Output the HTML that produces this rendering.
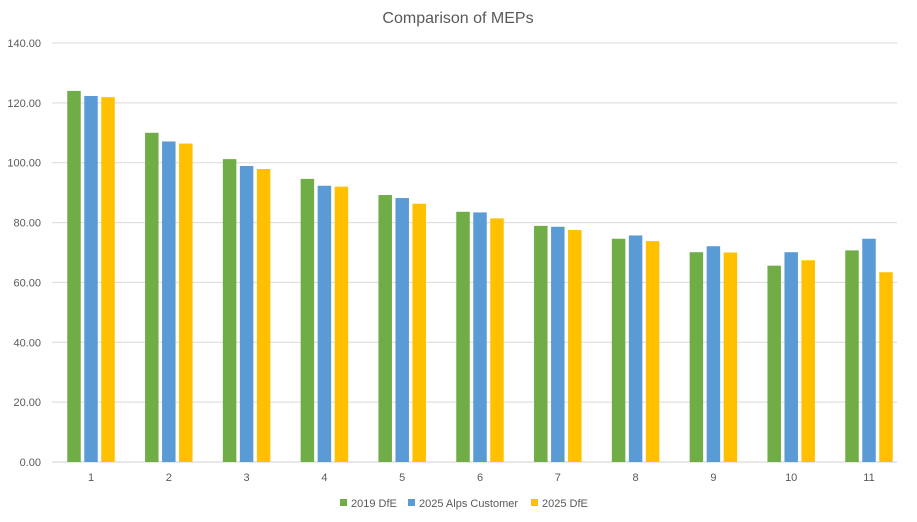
<!DOCTYPE html>
<html><head><meta charset="utf-8"><style>
body{margin:0;background:#fff;font-family:"Liberation Sans",sans-serif}
svg text{font-family:"Liberation Sans",sans-serif}
</style></head><body>
<svg id="chart" width="917" height="517">
<text x="458" y="23" text-anchor="middle" font-size="16" fill="#595959">Comparison of MEPs</text>
<g id="grid"></g><g id="bars"></g><g id="labels"></g>
<g>
<rect x="340" y="499" width="7" height="7" fill="#70AD47"/>
<text x="351" y="507" font-size="11" fill="#595959">2019 DfE</text>
<rect x="408" y="499" width="7" height="7" fill="#5B9BD5"/>
<text x="419" y="507" font-size="11" fill="#595959">2025 Alps Customer</text>
<rect x="531" y="499" width="7" height="7" fill="#FFC000"/>
<text x="542" y="507" font-size="11" fill="#595959">2025 DfE</text>
</g>
</svg>
<script>
const categories=["1","2","3","4","5","6","7","8","9","10","11"];
const dfe2019=[124.0,110.0,101.2,94.6,89.2,83.6,78.9,74.6,70.1,65.6,70.7];
const alps2025=[122.3,107.1,98.9,92.3,88.2,83.4,78.6,75.7,72.1,70.1,74.6];
const dfe2025=[121.9,106.4,97.9,92.0,86.3,81.4,77.5,73.8,70.0,67.4,63.4];
const yTicks=[0,20,40,60,80,100,120,140];
const ns="http://www.w3.org/2000/svg";
const x0=52,x1=897,yBase=462,yTop=43,yMax=140;
const y=v=>yBase-v/yMax*(yBase-yTop);
const step=77.8,first=91;
const cx=i=>first+step*i;
const grid=document.getElementById('grid'),bars=document.getElementById('bars'),labels=document.getElementById('labels');
yTicks.forEach(t=>{
 const l=document.createElementNS(ns,'line');
 l.setAttribute('x1',x0);l.setAttribute('x2',x1);l.setAttribute('y1',y(t));l.setAttribute('y2',y(t));
 l.setAttribute('stroke',t===0?'#d0d0d0':'#d9d9d9');l.setAttribute('stroke-width',1);
 
 
 grid.appendChild(l);
 const tx=document.createElementNS(ns,'text');
 tx.setAttribute('x',41);tx.setAttribute('y',y(t)+4);tx.setAttribute('text-anchor','end');
 tx.setAttribute('font-size','11');tx.setAttribute('fill','#595959');tx.textContent=t.toFixed(2);
 
 
 labels.appendChild(tx);
});
const series=[[dfe2019,'#70AD47','2019-dfe'],[alps2025,'#5B9BD5','2025-alps'],[dfe2025,'#FFC000','2025-dfe']];
const bw=13.5,gap=3.5;
categories.forEach((c,i)=>{
 series.forEach((s,j)=>{
  const r=document.createElementNS(ns,'rect');
  const v=s[0][i];
  r.setAttribute('x',cx(i)+(j-1)*(bw+gap)-bw/2);r.setAttribute('width',bw);
  r.setAttribute('y',y(v));r.setAttribute('height',yBase-y(v));r.setAttribute('fill',s[1]);
  
  
  bars.appendChild(r);
 });
 const tx=document.createElementNS(ns,'text');
 tx.setAttribute('x',cx(i));tx.setAttribute('y',481);tx.setAttribute('text-anchor','middle');
 tx.setAttribute('font-size','11');tx.setAttribute('fill','#595959');tx.textContent=c;
 
 
 labels.appendChild(tx);
});
</script>
</body></html>
